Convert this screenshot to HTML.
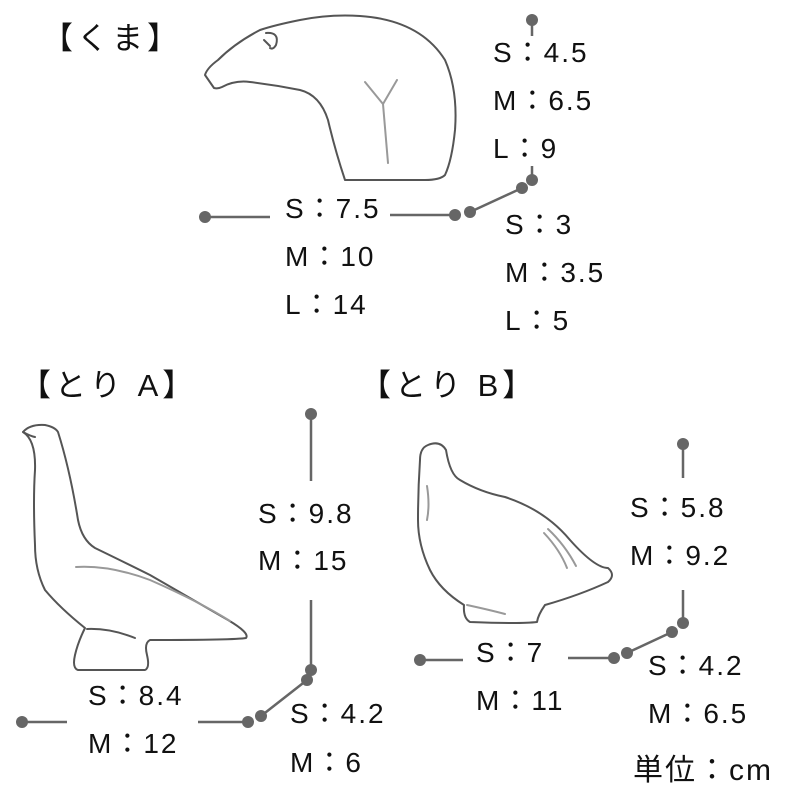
<!DOCTYPE html>
<html><head><meta charset="utf-8"><style>
html,body{margin:0;padding:0;background:#fff}
svg{display:block}
text{font-family:"Liberation Sans","Noto Sans CJK JP",sans-serif;font-size:28px;fill:#111;letter-spacing:2px}
.h{font-size:31px;letter-spacing:4px}
</style></head><body>
<svg width="800" height="800" viewBox="0 0 800 800" xmlns="http://www.w3.org/2000/svg">
<g fill="none" stroke="#555" stroke-width="2" stroke-linejoin="round" stroke-linecap="round">
<path d="M214,88 L205,75 Q207,68 218,60 Q235,43 260,30 Q275,25 300,20 Q330,14 360,16 Q420,20 445,60 Q458,90 455,130 Q452,160 445,175 Q440,180 425,180 L345,180 Q335,150 328,120 Q320,95 300,90 Q275,85 250,82 Q235,80 222,87 Q218,89 214,88 Z"/>
<path d="M266,33 Q280,32 276,45 Q273,50 270,48"/>
<path d="M264,40 L270,46"/>
<path d="M23,432 Q30,424 45,425 Q55,427 58,432 Q70,470 78,520 Q82,540 95,548 Q130,565 150,575 Q190,598 228,620 Q250,633 246,638 Q235,640 150,640 Q144,643 147,655 Q150,668 145,670 L78,670 Q72,668 75,655 Q78,642 85,628 Q60,608 45,590 Q35,570 35,545 Q33,500 35,470 Q36,440 23,432 Z"/>
<path d="M23,432 Q30,436 35,437"/>
<path d="M87,629 Q110,628 135,638"/>
<path d="M428,445 Q440,440 446,450 Q450,475 460,480 Q480,492 505,497 Q545,510 570,540 Q595,568 608,568 Q616,575 608,582 Q580,595 545,605 Q538,615 537,622 Q520,624 470,622 Q463,618 464,605 Q440,590 430,570 Q418,545 418,520 Q418,490 420,460 Q420,448 428,445 Z"/>
</g>
<g fill="none" stroke="#999" stroke-width="2" stroke-linecap="round">
<path d="M365,82 L383,104 L397,80 M383,104 L388,163"/>
<path d="M76,567 Q110,565 150,580 Q200,602 230,621"/>
<path d="M427,486 Q430,505 427,520"/>
<path d="M544,533 Q560,550 567,568 M548,529 Q565,545 576,566"/>
<path d="M467,605 Q490,610 505,614"/>
</g>
<g stroke="#666" stroke-width="2.5" fill="none">
<path d="M532,20 V36 M205,217 H270 M390,215 H455 M470,212 L522,188 M532,180 V166"/>
<path d="M311,414 V481 M311,600 V670 M307,680 L261,716 M22,722 H67 M198,722 H248"/>
<path d="M683,444 V478 M683,590 V623 M672,632 L627,653 M420,660 H463 M568,658 H614"/>
</g>
<g fill="#666">
<circle cx="532" cy="20" r="6"/><circle cx="205" cy="217" r="6"/><circle cx="455" cy="215" r="6"/><circle cx="470" cy="212" r="6"/><circle cx="522" cy="188" r="6"/><circle cx="532" cy="180" r="6"/>
<circle cx="311" cy="414" r="6"/><circle cx="311" cy="670" r="6"/><circle cx="307" cy="680" r="6"/><circle cx="261" cy="716" r="6"/><circle cx="248" cy="722" r="6"/><circle cx="22" cy="722" r="6"/>
<circle cx="683" cy="444" r="6"/><circle cx="683" cy="623" r="6"/><circle cx="672" cy="632" r="6"/><circle cx="627" cy="653" r="6"/><circle cx="614" cy="658" r="6"/><circle cx="420" cy="660" r="6"/>
</g>
<text class="h" x="42" y="49">【くま】</text>
<text class="h" x="20" y="396">【とり A】</text>
<text class="h" x="360" y="396">【とり B】</text>
<text x="493" y="62">S：4.5</text><text x="493" y="110">M：6.5</text><text x="493" y="158">L：9</text>
<text x="285" y="218">S：7.5</text><text x="285" y="266">M：10</text><text x="285" y="314">L：14</text>
<text x="505" y="234">S：3</text><text x="505" y="282">M：3.5</text><text x="505" y="330">L：5</text>
<text x="258" y="523">S：9.8</text><text x="258" y="570">M：15</text>
<text x="88" y="705">S：8.4</text><text x="88" y="753">M：12</text>
<text x="290" y="723">S：4.2</text><text x="290" y="772">M：6</text>
<text x="630" y="517">S：5.8</text><text x="630" y="565">M：9.2</text>
<text x="476" y="662">S：7</text><text x="476" y="710">M：11</text>
<text x="648" y="675">S：4.2</text><text x="648" y="723">M：6.5</text>
<text x="633" y="780" style="font-size:30px">単位：cm</text>
</svg>
</body></html>
